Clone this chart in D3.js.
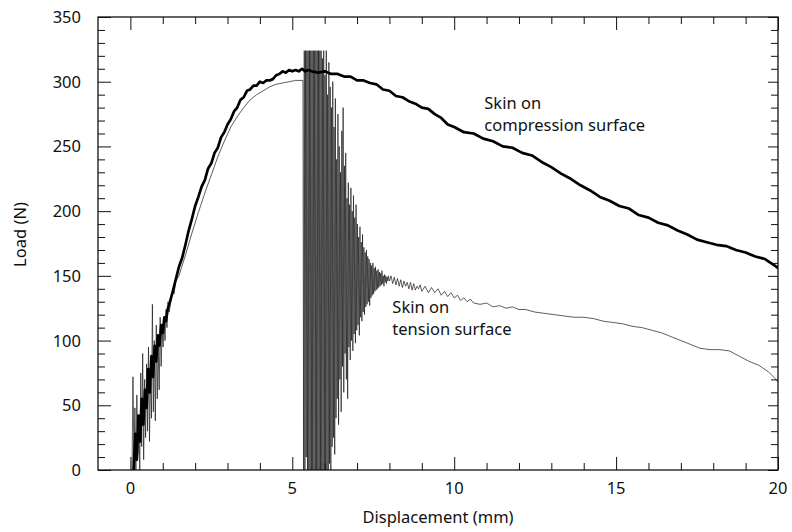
<!DOCTYPE html>
<html>
<head>
<meta charset="utf-8">
<script src="https://cdn.jsdelivr.net/npm/d3@7"></script>
<style>
  body { margin: 0; background: #fff; }
  text { font-family: "Noto Sans", "Open Sans", sans-serif; fill: #111; }
</style>
</head>
<body>
<div id="container"></div>
<script>
// Skin on compression surface (thick curve), [displacement mm, load N]
const compressionPoints = [
  [0.1, 0], [0.15, 28], [0.2, 8], [0.25, 42], [0.3, 22], [0.35, 55], [0.4, 35], [0.45, 62], [0.5, 48], [0.55, 78],
  [0.6, 60], [0.65, 88], [0.7, 72], [0.75, 96], [0.8, 84], [0.85, 104], [0.9, 96], [0.95, 112], [1.0, 106], [1.05, 118],
  [1.1, 115], [1.15, 124], [1.2, 128], [1.3, 137], [1.4, 147], [1.5, 157], [1.6, 164], [1.7, 174], [1.8, 185], [1.9, 194],
  [2.0, 204], [2.1, 211], [2.2, 219], [2.3, 224], [2.4, 233], [2.5, 237], [2.6, 245], [2.7, 249], [2.8, 257], [2.9, 261],
  [3.0, 267], [3.1, 271], [3.2, 277], [3.3, 280], [3.4, 286], [3.5, 288], [3.6, 293], [3.7, 294], [3.8, 297], [3.9, 297],
  [4.0, 300], [4.1, 299], [4.2, 301], [4.3, 301], [4.4, 302], [4.5, 305], [4.6, 306], [4.7, 308], [4.8, 307], [4.9, 309],
  [5.0, 308], [5.1, 309], [5.2, 308], [5.3, 310], [5.4, 308], [5.5, 309], [5.6, 308], [5.8, 307], [6.0, 308], [6.2, 306],
  [6.4, 306], [6.6, 304], [6.8, 304], [7.0, 301], [7.2, 301], [7.4, 299], [7.6, 298], [7.8, 294], [8.0, 293], [8.2, 289],
  [8.4, 288], [8.6, 285], [8.8, 283], [9.0, 280], [9.2, 279], [9.4, 275], [9.6, 272], [9.8, 267], [10.0, 265], [10.3, 261],
  [10.6, 260], [10.9, 256], [11.2, 254], [11.5, 250], [11.8, 249], [12.1, 245], [12.4, 243], [12.7, 238], [13.0, 234],
  [13.3, 229], [13.6, 225], [13.9, 220], [14.2, 216], [14.5, 211], [14.8, 208], [15.1, 204], [15.4, 202], [15.7, 197],
  [16.0, 195], [16.3, 191], [16.6, 189], [16.9, 185], [17.2, 182], [17.5, 178], [17.8, 176], [18.1, 174], [18.4, 173],
  [18.7, 170], [19.0, 168], [19.3, 165], [19.6, 163], [19.9, 158], [20.0, 156]
];

// Skin on tension surface (thin curve, fracture oscillations), [displacement mm, load N]
const tensionPoints = [
  [0.05, 0], [0.08, 72], [0.11, 5], [0.14, 48], [0.17, 0], [0.2, 58], [0.23, 12], [0.26, 40], [0.29, 0], [0.32, 75],
  [0.35, 18], [0.38, 90], [0.41, 8], [0.44, 70], [0.47, 25], [0.5, 82], [0.53, 30], [0.56, 95], [0.59, 22], [0.62, 78],
  [0.65, 40], [0.68, 128], [0.71, 45], [0.74, 100], [0.77, 38], [0.8, 112], [0.83, 55], [0.86, 96], [0.89, 62], [0.92, 118],
  [0.95, 80], [0.98, 108], [1.01, 95], [1.04, 115], [1.07, 100], [1.1, 124], [1.13, 110], [1.16, 130], [1.2, 122], [1.25, 131],
  [1.3, 138], [1.35, 136], [1.4, 146], [1.45, 148], [1.5, 150], [1.7, 166], [1.9, 183], [2.1, 199], [2.3, 214], [2.5, 228],
  [2.7, 242], [2.9, 254], [3.1, 265], [3.3, 273], [3.5, 280], [3.7, 286], [3.9, 290], [4.1, 293], [4.3, 296], [4.5, 298],
  [4.7, 299], [4.9, 300], [5.1, 301], [5.33, 301],
  [5.35, 0], [5.37, 324], [5.39, 0], [5.41, 324], [5.43, 10], [5.45, 324], [5.47, 0], [5.49, 324], [5.51, 0], [5.53, 324],
  [5.55, 0], [5.57, 324], [5.59, 0], [5.61, 324], [5.63, 0], [5.65, 324], [5.67, 0], [5.69, 324], [5.71, 0], [5.73, 324],
  [5.75, 0], [5.77, 324], [5.79, 0], [5.81, 324], [5.83, 0], [5.85, 324], [5.87, 0], [5.89, 324], [5.91, 0], [5.93, 318],
  [5.95, 0], [5.97, 324], [5.99, 0], [6.01, 305], [6.03, 0], [6.05, 324], [6.07, 0], [6.09, 290], [6.11, 0], [6.13, 315],
  [6.15, 5], [6.17, 296], [6.19, 0], [6.21, 280], [6.23, 18], [6.25, 300], [6.27, 25], [6.29, 265], [6.31, 12], [6.33, 287],
  [6.35, 40], [6.37, 240], [6.39, 55], [6.41, 275], [6.43, 35], [6.45, 250], [6.47, 70], [6.49, 230], [6.51, 45], [6.53, 262],
  [6.55, 80], [6.57, 280], [6.59, 60], [6.61, 235], [6.63, 90], [6.65, 245], [6.67, 70], [6.69, 210], [6.71, 55], [6.73, 222],
  [6.75, 95], [6.77, 205], [6.79, 85], [6.81, 218], [6.83, 100], [6.85, 200], [6.87, 92], [6.89, 212], [6.91, 105], [6.93, 195],
  [6.95, 98], [6.97, 205], [6.99, 108], [7.01, 190], [7.03, 112], [7.05, 180], [7.07, 104], [7.09, 188], [7.11, 118], [7.13, 176],
  [7.15, 115], [7.17, 182], [7.19, 122], [7.21, 172], [7.23, 120], [7.25, 168], [7.27, 126], [7.29, 170], [7.31, 128], [7.33, 165],
  [7.35, 130], [7.37, 163], [7.39, 127], [7.41, 160], [7.43, 133], [7.45, 158], [7.47, 135], [7.49, 160], [7.51, 136], [7.53, 156],
  [7.55, 138], [7.57, 157], [7.59, 139], [7.61, 154], [7.63, 140], [7.65, 155], [7.67, 141], [7.69, 153], [7.71, 142], [7.73, 152],
  [7.75, 143], [7.77, 154], [7.79, 144], [7.81, 150], [7.83, 142], [7.85, 151], [7.87, 145], [7.89, 150], [7.91, 144], [7.93, 149],
  [7.95, 146], [7.97, 150], [8.0, 146], [8.05, 150], [8.1, 144], [8.15, 149], [8.2, 143], [8.25, 148], [8.3, 142], [8.35, 147],
  [8.4, 141], [8.45, 146], [8.5, 142], [8.55, 145], [8.6, 140], [8.65, 145], [8.7, 139], [8.75, 144], [8.8, 139], [8.85, 142],
  [8.9, 140], [8.95, 143], [9.0, 138], [9.1, 142], [9.2, 137], [9.3, 141], [9.4, 137], [9.5, 140], [9.6, 135], [9.7, 138],
  [9.8, 134], [9.9, 137], [10.0, 133], [10.1, 135], [10.2, 131], [10.3, 133], [10.4, 130], [10.5, 132], [10.6, 129], [10.8, 128],
  [11.0, 129], [11.2, 126], [11.4, 127], [11.6, 125], [11.8, 126], [12.0, 124], [12.2, 124], [12.5, 122], [12.8, 121], [13.1, 120],
  [13.4, 119], [13.7, 118], [14.0, 118], [14.3, 117], [14.6, 115], [14.9, 114], [15.2, 113], [15.5, 111], [15.8, 110], [16.1, 108],
  [16.4, 106], [16.7, 103], [17.0, 100], [17.3, 97], [17.6, 94], [17.9, 93], [18.2, 93], [18.5, 92], [18.8, 88], [19.1, 84],
  [19.4, 81], [19.7, 76], [19.9, 71], [20.0, 68]
];

const xTicks = [0, 5, 10, 15, 20];
const yTicks = [0, 50, 100, 150, 200, 250, 300, 350];

const labels = [
  { lines: ["Skin on", "compression surface"], x: 10.93, y: 279 },
  { lines: ["Skin on", "tension surface"], x: 8.09, y: 121 }
];

const W = 792, H = 532;
const margin = { top: 17, right: 14, bottom: 62, left: 98 };
const width = W - margin.left - margin.right;
const height = H - margin.top - margin.bottom;
const fs = 16.5;

const svg = d3.select("#container").append("svg")
  .attr("width", W).attr("height", H);
const g = svg.append("g").attr("transform", `translate(${margin.left},${margin.top})`);

const x = d3.scaleLinear().domain([-1, 20]).range([0, width]);
const y = d3.scaleLinear().domain([0, 350]).range([height, 0]);

svg.append("defs").append("clipPath").attr("id", "clip")
  .append("rect").attr("width", width).attr("height", height);

// minor + major ticks, mirrored on all sides
const minorX = d3.range(0, 21, 1).filter(d => d % 5 !== 0);
const minorY = d3.range(0, 351, 10).filter(d => d % 50 !== 0);

function tickAxis(axisFn, scale, values, size) {
  return axisFn(scale).tickValues(values).tickSizeInner(-size).tickSizeOuter(0).tickFormat("");
}

g.append("g").attr("transform", `translate(0,${height})`).call(tickAxis(d3.axisBottom, x, minorX, 7));
g.append("g").attr("transform", `translate(0,${height})`).call(tickAxis(d3.axisBottom, x, xTicks, 13));
g.append("g").call(tickAxis(d3.axisTop, x, minorX, 7));
g.append("g").call(tickAxis(d3.axisTop, x, xTicks, 13));
g.append("g").call(tickAxis(d3.axisLeft, y, minorY, 7));
g.append("g").call(tickAxis(d3.axisLeft, y, yTicks, 13));
g.append("g").attr("transform", `translate(${width},0)`).call(tickAxis(d3.axisRight, y, minorY, 7));
g.append("g").attr("transform", `translate(${width},0)`).call(tickAxis(d3.axisRight, y, yTicks, 10));

g.selectAll(".domain").remove();
g.selectAll(".tick line").attr("stroke", "#111").attr("stroke-width", 1);

// tick labels
g.append("g").selectAll("text").data(xTicks).enter().append("text")
  .attr("x", d => x(d)).attr("y", height + 24)
  .attr("text-anchor", "middle").attr("font-size", fs).text(d => d);
g.append("g").selectAll("text").data(yTicks).enter().append("text")
  .attr("x", -17).attr("y", d => y(d) + 6)
  .attr("text-anchor", "end").attr("font-size", fs).text(d => d);

// data
const line = d3.line().x(d => x(d[0])).y(d => y(d[1]));
const plot = g.append("g").attr("clip-path", "url(#clip)");

plot.append("path")
  .datum(tensionPoints)
  .attr("fill", "none").attr("stroke", "#1a1a1a").attr("stroke-width", 0.7)
  .attr("d", line);

plot.append("path")
  .datum(compressionPoints)
  .attr("fill", "none").attr("stroke", "#000").attr("stroke-width", 2.7)
  .attr("stroke-linejoin", "round")
  .attr("d", line);

// frame
g.append("rect").attr("width", width).attr("height", height)
  .attr("fill", "none").attr("stroke", "#111").attr("stroke-width", 1.3);

// annotations
labels.forEach(l => {
  const t = g.append("text").attr("font-size", fs);
  l.lines.forEach((s, i) => {
    t.append("tspan").attr("x", x(l.x)).attr("y", y(l.y) + i * 22).text(s);
  });
});

// axis titles
svg.append("text")
  .attr("x", margin.left + width / 2).attr("y", 523)
  .attr("text-anchor", "middle").attr("font-size", fs)
  .text("Displacement (mm)");
svg.append("text")
  .attr("transform", `translate(26,${margin.top + height / 2 - 9}) rotate(-90)`)
  .attr("text-anchor", "middle").attr("font-size", fs)
  .text("Load (N)");
</script>
</body>
</html>
